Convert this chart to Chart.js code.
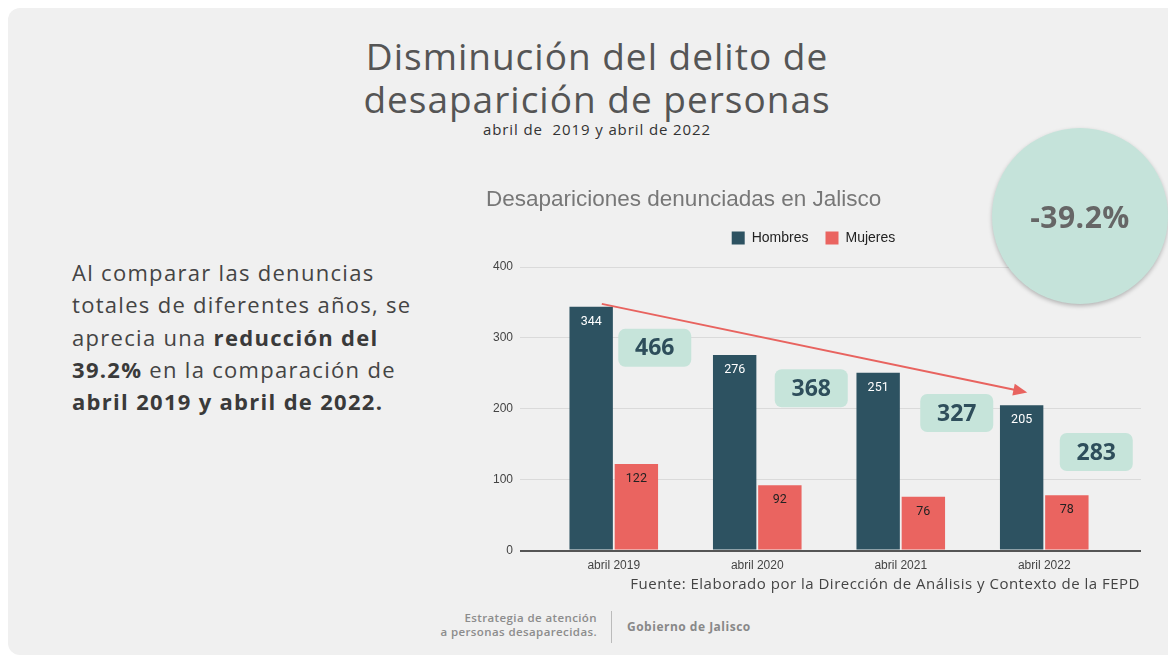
<!DOCTYPE html>
<html lang="es">
<head>
<meta charset="UTF-8">
<title>Disminución del delito de desaparición de personas</title>
<script src="https://cdn.jsdelivr.net/npm/chart.js"></script>
<style>
  body { margin: 0; width: 1168px; height: 658px; overflow: hidden; position: relative; background: #fff; font-family: "Open Sans", sans-serif; }
  .panel { position: absolute; left: 8px; top: 8px; width: 1200px; height: 647px; background: #f0f0f0; border-radius: 12px; }
  h1 { position: absolute; left: 0; top: 34px; width: 1194px; margin: 0; text-align: center; font-weight: 400; font-size: 37px; letter-spacing: 1px; line-height: 43px; color: #555; }
  .sub { position: absolute; left: 0; top: 119px; width: 1194px; text-align: center; font-size: 15px; letter-spacing: 0.9px; color: #333; }
  .lead { position: absolute; left: 72px; top: 256px; width: 380px; font-size: 22px; letter-spacing: 1.3px; line-height: 32.3px; color: #444; white-space: nowrap; }
  .lead b { color: #3a3a3a; }
  #wrap { position: absolute; left: 470px; top: 180px; width: 680px; height: 409px; }
  .circle { position: absolute; left: 992px; top: 128px; width: 176px; height: 176px; border-radius: 50%; background: #c5e3da; box-shadow: 0 2px 4px rgba(0,0,0,0.25); display: flex; align-items: center; justify-content: center; font-weight: 700; font-size: 30px; letter-spacing: 0.5px; color: #666; }
  .fuente { position: absolute; right: 28px; top: 573px; font-size: 15px; letter-spacing: 0.5px; color: #444; }
  .est { position: absolute; right: 571px; top: 611px; text-align: right; font-size: 11.5px; letter-spacing: 0.4px; line-height: 14px; font-weight: 600; color: #8c8c8c; }
  .sep { position: absolute; left: 611px; top: 611px; width: 1px; height: 32px; background: #bbb; }
  .gob { position: absolute; left: 627px; top: 618px; font-size: 12px; letter-spacing: 0.5px; font-weight: 700; color: #888; }
</style>
</head>
<body>
<div class="panel"></div>
<h1>Disminución del delito de<br>desaparición de personas</h1>
<div class="sub">abril de&nbsp; 2019 y abril de 2022</div>
<div class="lead">Al comparar las denuncias<br>totales de diferentes años, se<br>aprecia una <b>reducción del</b><br><b>39.2%</b> en la comparación de<br><b>abril 2019 y abril de 2022.</b></div>
<div id="wrap"><canvas id="chart"></canvas></div>
<div class="circle">-39.2%</div>
<div class="fuente">Fuente: Elaborado por la Dirección de Análisis y Contexto de la FEPD</div>
<div class="est">Estrategia de atención<br>a personas desaparecidas.</div>
<div class="sep"></div>
<div class="gob">Gobierno de Jalisco</div>
<script>
const categories = ['abril 2019', 'abril 2020', 'abril 2021', 'abril 2022'];
const hombres = [344, 276, 251, 205];
const mujeres = [122, 92, 76, 78];
const totales = [466, 368, 327, 283];
const yTicks = [0, 100, 200, 300, 400];

const chartFont = '"Liberation Sans", Arial, sans-serif';
const gridColor = c => c.tick.value === 0 ? '#555' : '#dadada';
const gridWidth = c => c.tick.value === 0 ? 2 : 1;
const setTicks = s => { s.ticks = yTicks.map(v => ({ value: v })); };

// value labels inside the bars
const barLabels = {
  id: 'barLabels',
  afterDatasetsDraw(chart) {
    const ctx = chart.ctx;
    ctx.save();
    ctx.font = '12.5px Roboto, sans-serif';
    ctx.textAlign = 'center';
    ctx.textBaseline = 'middle';
    chart.data.datasets.forEach((ds, i) => {
      chart.getDatasetMeta(i).data.forEach((bar, j) => {
        ctx.fillStyle = i === 0 ? '#fff' : '#222';
        ctx.fillText(ds.data[j], bar.x, bar.y + 15);
      });
    });
    ctx.restore();
  }
};

// trend arrow and total boxes
const extras = {
  id: 'extras',
  afterDraw(chart, args, opts) {
    const ctx = chart.ctx;
    const x = chart.scales.x, y = chart.scales.y;
    // arrow
    const x1 = x.getPixelForValue(0) + opts.arrow.dx[0], y1 = y.getPixelForValue(opts.arrow.v[0]);
    const x2 = x.getPixelForValue(3) + opts.arrow.dx[1], y2 = y.getPixelForValue(opts.arrow.v[1]);
    const ang = Math.atan2(y2 - y1, x2 - x1);
    ctx.save();
    ctx.strokeStyle = '#e8635f';
    ctx.fillStyle = '#e8635f';
    ctx.lineWidth = 2;
    ctx.beginPath();
    ctx.moveTo(x1, y1);
    ctx.lineTo(x2 - 12 * Math.cos(ang), y2 - 12 * Math.sin(ang));
    ctx.stroke();
    ctx.beginPath();
    ctx.moveTo(x2, y2);
    ctx.lineTo(x2 - 14 * Math.cos(ang) + 6 * Math.sin(ang), y2 - 14 * Math.sin(ang) - 6 * Math.cos(ang));
    ctx.lineTo(x2 - 14 * Math.cos(ang) - 6 * Math.sin(ang), y2 - 14 * Math.sin(ang) + 6 * Math.cos(ang));
    ctx.closePath();
    ctx.fill();
    // total boxes
    ctx.font = '700 23px "Open Sans", sans-serif';
    ctx.textAlign = 'center';
    ctx.textBaseline = 'middle';
    totales.forEach((t, i) => {
      const cx = x.getPixelForValue(i) + opts.boxes.dx[i];
      const cy = y.getPixelForValue(opts.boxes.v[i]);
      const w = opts.boxes.w, h = opts.boxes.h;
      ctx.fillStyle = '#c6e4da';
      ctx.beginPath();
      ctx.roundRect(cx - w / 2, cy - h / 2, w, h, 7);
      ctx.fill();
      ctx.fillStyle = '#2e4e5b';
      ctx.fillText(t, cx, cy + 1);
    });
    ctx.restore();
  }
};

const legendSpacer = {
  id: 'legendSpacer',
  beforeInit(chart) {
    const fit = chart.legend.fit;
    chart.legend.fit = function () {
      fit.bind(chart.legend)();
      this.height += 12;
    };
  }
};

new Chart(document.getElementById('chart'), {
  type: 'bar',
  data: {
    labels: categories,
    datasets: [
      { label: 'Hombres', data: hombres, backgroundColor: '#2d5261', categoryPercentage: 0.63, barPercentage: 0.96 },
      { label: 'Mujeres', data: mujeres, backgroundColor: '#ea6460', categoryPercentage: 0.63, barPercentage: 0.96 }
    ]
  },
  options: {
    responsive: true,
    maintainAspectRatio: false,
    animation: false,
    layout: { padding: { left: 16, right: 9, top: 0, bottom: 8 } },
    plugins: {
      title: {
        display: true,
        text: 'Desapariciones denunciadas en Jalisco',
        align: 'start',
        color: '#777',
        font: { family: chartFont, size: 22.5, weight: 'normal' },
        padding: { top: 6, bottom: 1 }
      },
      legend: {
        labels: { boxWidth: 13, boxHeight: 13, padding: 17, color: '#222', font: { family: chartFont, size: 14 } }
      },
      tooltip: { enabled: false },
      extras: {
        arrow: { dx: [-12, -17], v: [348, 223] },
        boxes: { dx: [41, 54, 56, 52], v: [286, 229, 194, 139], w: 73, h: 38 }
      }
    },
    scales: {
      x: {
        grid: { display: false, drawTicks: false },
        border: { display: false },
        ticks: { color: '#444', padding: 8, font: { family: chartFont, size: 12 } }
      },
      y: {
        min: 0, max: 400,
        afterBuildTicks: setTicks,
        ticks: { color: '#444', padding: 7, font: { family: chartFont, size: 12 } },
        grid: { color: gridColor, lineWidth: gridWidth, tickLength: 22 },
        border: { display: false }
      },
      y2: {
        position: 'right',
        min: 0, max: 400,
        afterBuildTicks: setTicks,
        ticks: { display: false },
        grid: { drawOnChartArea: false, color: gridColor, lineWidth: gridWidth, tickLength: 25 },
        border: { display: false }
      }
    }
  },
  plugins: [barLabels, extras, legendSpacer]
});
</script>
</body>
</html>
